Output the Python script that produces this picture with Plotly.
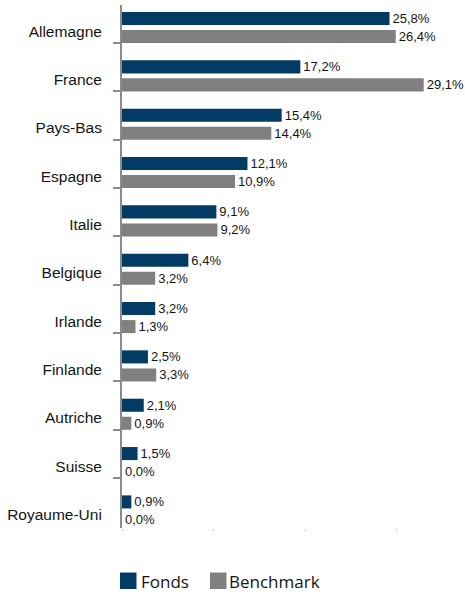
import plotly.graph_objects as go

countries = ["Allemagne", "France", "Pays-Bas", "Espagne", "Italie", "Belgique",
             "Irlande", "Finlande", "Autriche", "Suisse", "Royaume-Uni"]
fonds = [25.8, 17.2, 15.4, 12.1, 9.1, 6.4, 3.2, 2.5, 2.1, 1.5, 0.9]
benchmark = [26.4, 29.1, 14.4, 10.9, 9.2, 3.2, 1.3, 3.3, 0.9, 0.0, 0.0]

NAVY = "#023c64"
GREY = "#808080"
AXIS = "#8a8a8a"
TXT = "#141414"

idx = list(range(len(countries)))
bench_shift = 0.373
label_shift = 0.26
bar_w = 0.27

fig = go.Figure()
fig.add_trace(go.Bar(
    name="Fonds", orientation="h", x=fonds, y=[i for i in idx],
    width=bar_w, marker=dict(color=NAVY, line=dict(width=0)),
    texttemplate="%{x:.1f}%", textposition="outside", constraintext="none",
    cliponaxis=False,
    textfont=dict(family="Arial, Liberation Sans", size=13, color=TXT),
))
fig.add_trace(go.Bar(
    name="Benchmark", orientation="h", x=benchmark, y=[i + bench_shift for i in idx],
    width=bar_w, marker=dict(color=GREY, line=dict(width=0)),
    texttemplate="%{x:.1f}%", textposition="outside", constraintext="none",
    cliponaxis=False,
    textfont=dict(family="Arial, Liberation Sans", size=13, color=TXT),
))

fig.update_layout(
    width=465, height=595,
    margin=dict(l=122, r=0, t=5, b=67),
    paper_bgcolor="white", plot_bgcolor="white",
    barmode="overlay", showlegend=False,
    separators=", ",
    xaxis=dict(range=[0, 33.08], showgrid=False, zeroline=False, showline=False,
               ticks="outside", tick0=0, dtick=8.84, ticklen=2, tickwidth=1,
               tickcolor="#c8c8c8", showticklabels=False, fixedrange=True),
    yaxis=dict(range=[10.54, -0.28], showgrid=False, zeroline=False,
               showline=True, linecolor=AXIS, linewidth=2,
               tickmode="array", tickvals=[i + label_shift for i in idx],
               ticktext=countries, ticks="outside", ticklen=15,
               tickcolor="rgba(0,0,0,0)",
               tickfont=dict(family="Arial, Liberation Sans", size=15.5, color=TXT),
               minor=dict(tickmode="array", tickvals=[i + 0.507 for i in idx[:-1]],
                          ticks="outside", ticklen=7, tickwidth=2, tickcolor=AXIS,
                          showgrid=False)),
)

# Legend drawn as keys + labels below the plot
legend_items = [("Fonds", NAVY, -2, 17), ("Benchmark", GREY, 88, 105)]
for name, col, kx, tx in legend_items:
    fig.add_shape(type="rect", xref="paper", yref="paper", xsizemode="pixel",
                  ysizemode="pixel", xanchor=0, yanchor=0,
                  x0=kx, x1=kx + 16.5, y0=-61, y1=-44.5,
                  fillcolor=col, line=dict(width=0))
    fig.add_annotation(text=name, xref="paper", yref="paper", x=0, y=0,
                       xanchor="left", yanchor="middle", xshift=tx, yshift=-53,
                       showarrow=False,
                       font=dict(family="Open Sans", size=17, color=TXT))

fig.write_html("out.html")
